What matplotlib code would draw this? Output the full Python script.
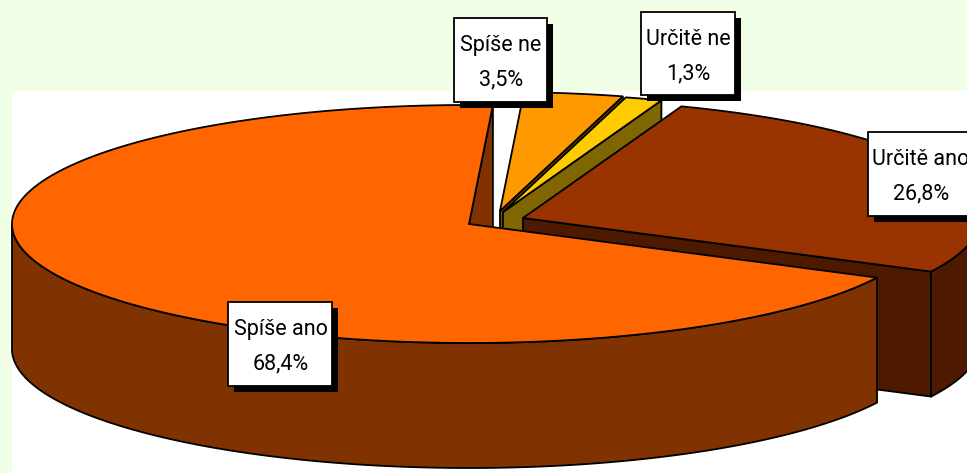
import numpy as np
import matplotlib
matplotlib.use("Agg")
import matplotlib.pyplot as plt
from matplotlib.patches import Polygon, Rectangle

categories = ["Spíše ano", "Určitě ano", "Určitě ne", "Spíše ne"]
values = [68.4, 26.8, 1.3, 3.5]

top_colors = ["#FF6600", "#993300", "#FFCC00", "#FF9900"]
side_colors = ["#803300", "#4D1A00", "#806600", "#804D00"]

# pie geometry in image pixels
start_angle = 87
rx, ry = 457, 119
depth = 125
centers = [(469, 224), (523, 218), (503, 212), (500, 211)]
draw_order = [3, 2, 1, 0]

# label boxes: x0, y0, x1, y1, text centre x
boxes = [
    (228, 302, 332, 386, 281),
    (868, 132, 985, 216, 921),
    (641, 12, 735, 95, 688),
    (454, 18, 547, 102, 501),
]

plt.rcParams["font.family"] = ["Roboto", "DejaVu Sans"]


def rim(cx, cy, a0, a1, n=200):
    t = np.radians(np.linspace(a0, a1, n))
    return np.column_stack([cx + rx * np.cos(t), cy - ry * np.sin(t)])


def draw_wedge(ax, cx, cy, a0, a1, top, side):
    edge = dict(edgecolor="black", linewidth=1.3, joinstyle="miter")
    apex = np.array([[cx, cy]])
    drop = np.array([0, depth])

    # radial walls, only those that face the viewer
    if np.cos(np.radians(a0)) > 0:
        p = rim(cx, cy, a0, a0, 1)
        ax.add_patch(Polygon(np.vstack([apex, p, p + drop, apex + drop]), facecolor=side, **edge))
    if np.cos(np.radians(a1)) < 0:
        p = rim(cx, cy, a1, a1, 1)
        ax.add_patch(Polygon(np.vstack([apex, p, p + drop, apex + drop]), facecolor=side, **edge))

    # outer side: the part of the rim in front
    for k in range(-1, 3):
        lo, hi = max(a0, 180 + 360 * k), min(a1, 360 + 360 * k)
        if hi > lo:
            arc = rim(cx, cy, lo, hi)
            ax.add_patch(Polygon(np.vstack([arc, arc[::-1] + drop]), facecolor=side, **edge))

    ax.add_patch(Polygon(np.vstack([apex, rim(cx, cy, a0, a1)]), facecolor=top, **edge))


def draw_label(ax, name, value, box):
    x0, y0, x1, y1, tx = box
    ax.add_patch(Rectangle((x0 + 6, y0 + 6), x1 - x0, y1 - y0, facecolor="black", edgecolor="none"))
    ax.add_patch(Rectangle((x0, y0), x1 - x0, y1 - y0, facecolor="white", edgecolor="black", linewidth=1.3))
    pct = f"{value:.1f}%".replace(".", ",")
    ax.text(tx, y0 + 33, name, ha="center", va="baseline", fontsize=15.5)
    ax.text(tx, y0 + 67, pct, ha="center", va="baseline", fontsize=15.5)


def main():
    fig = plt.figure(figsize=(9.67, 4.73), dpi=100, facecolor="#F0FFE6")
    ax = fig.add_axes([0, 0, 1, 1])
    ax.set_xlim(0, 967)
    ax.set_ylim(473, 0)
    ax.axis("off")

    ax.add_patch(Rectangle((12, 91), 960, 390, facecolor="white", edgecolor="none"))

    spans = np.array(values) / sum(values) * 360
    bounds = start_angle + np.concatenate([[0], np.cumsum(spans)])

    for i in draw_order:
        cx, cy = centers[i]
        a0 = bounds[i]
        a1 = bounds[i + 1]
        draw_wedge(ax, cx, cy, a0, a1, top_colors[i], side_colors[i])

    for name, value, box in zip(categories, values, boxes):
        draw_label(ax, name, value, box)

    fig.savefig("out.png", dpi=100, facecolor=fig.get_facecolor())


if __name__ == "__main__":
    main()
